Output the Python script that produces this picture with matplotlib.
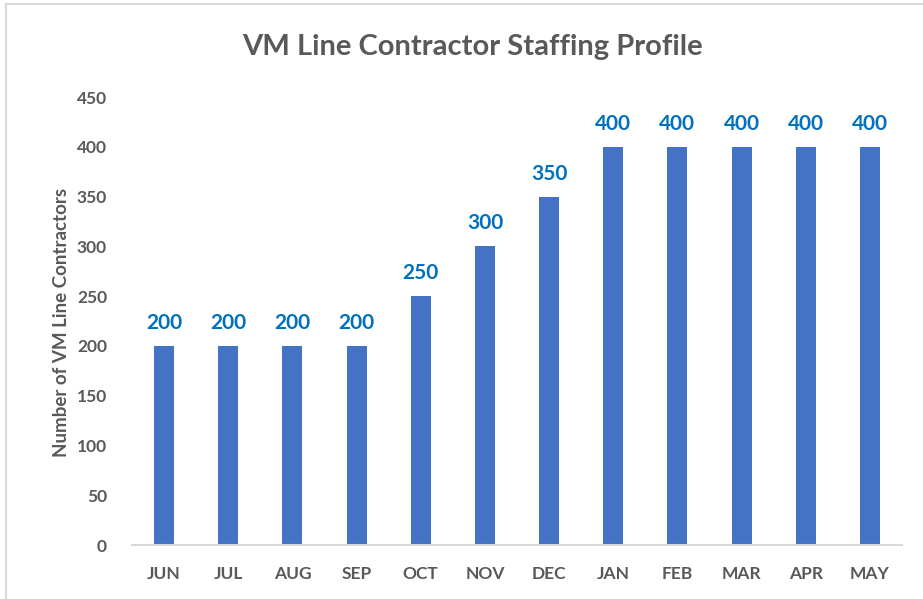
import matplotlib
matplotlib.use("Agg")
import matplotlib.pyplot as plt
from matplotlib.patches import Rectangle

months = ["JUN", "JUL", "AUG", "SEP", "OCT", "NOV", "DEC", "JAN", "FEB", "MAR", "APR", "MAY"]
contractors = [200, 200, 200, 200, 250, 300, 350, 400, 400, 400, 400, 400]
yticks = [0, 50, 100, 150, 200, 250, 300, 350, 400, 450]

plt.rcParams['font.family'] = ['Lato', 'DejaVu Sans']
gray = "#595959"

fig = plt.figure(figsize=(9.23, 5.99), dpi=100)
fig.patches.append(Rectangle((6/923, -0.1), 1.2, 1 - 4/599 + 0.1, transform=fig.transFigure,
                             fill=False, edgecolor="#d9d9d9", linewidth=1.5))
ax = fig.add_axes([132/923, 1 - 545/599, (902 - 132)/923, (545 - 97)/599])

x = range(len(months))
bars = ax.bar(x, contractors, width=0.31, color="#4472C4", zorder=2)
for xi, v in zip(x, contractors):
    ax.text(xi, v + 13, str(v), ha="center", va="bottom", color="#0070C0",
            fontsize=15, fontweight="bold")

ax.set_xlim(-0.5, len(months) - 0.5)
ax.set_ylim(0, 450)
ax.set_yticks(yticks)
ax.set_xticks(list(x))
ax.set_xticklabels(months)
for lab in ax.get_xticklabels() + ax.get_yticklabels():
    lab.set_fontweight("bold")
    lab.set_color(gray)
    lab.set_fontsize(12.5)
ax.tick_params(axis="both", length=0)
ax.tick_params(axis="x", pad=15)
ax.tick_params(axis="y", pad=18)
for s in ["top", "right", "left"]:
    ax.spines[s].set_visible(False)
ax.spines["bottom"].set_color("#d9d9d9")
ax.spines["bottom"].set_linewidth(1.5)

ax.set_ylabel("Number of VM Line Contractors", fontsize=13.5, fontweight="bold", color=gray)
ax.yaxis.set_label_coords(-0.08, 0.496)

fig.text(472/923, 1 - 47/599, "VM Line Contractor Staffing Profile", ha="center", va="center",
         fontsize=21, fontweight="bold", color=gray)

fig.savefig("out.png", dpi=100)
